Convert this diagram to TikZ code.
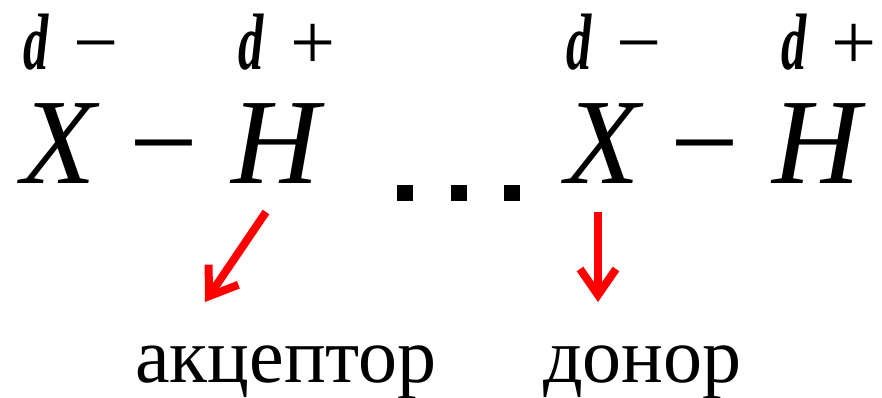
\documentclass[tikz,border=0pt]{standalone}
\usepackage{fontspec}
\setmainfont{Liberation Serif}
\usetikzlibrary{arrows.meta}

% text set at 40pt, then enlarged
\newcommand{\atomtxt}[1]{\scalebox{3.05}{\fontsize{40}{40}\selectfont\itshape #1}}
\newcommand{\bondtxt}[1]{\scalebox{3.05}{\fontsize{40}{40}\selectfont #1}}
\newcommand{\chargetxt}[1]{\scalebox{2}{\fontsize{40}{40}\selectfont #1}}
\newcommand{\roletxt}[1]{\scalebox{1.95}{\fontsize{40}{40}\selectfont #1}}
\newcommand{\delt}{\scalebox{1.26}[2]{\fontsize{40}{40}\selectfont\bfseries\itshape d}}

\tikzset{
  glyph/.style={inner sep=0pt, anchor=base west},
  hdot/.style={fill=black, inner sep=0pt, minimum size=16pt},
  polar/.style={draw=red, line width=8pt, -{Straight Barb[length=26pt,width=36pt]}}
}

\begin{document}
\begin{tikzpicture}[x=1pt,y=-1pt]
  \useasboundingbox (0,0) rectangle (882,398);
  % acceptor molecule
  \node[glyph] (dl1) at (23,70) {\delt};
  \node[glyph] (sg1) at (73,70) {\chargetxt{−}};
  \node[glyph] (dl2) at (238,70) {\delt};
  \node[glyph] (sg2) at (290,70) {\chargetxt{+}};
  \node[glyph] (x1) at (21,183) {\atomtxt{X}};
  \node[glyph] (b1) at (129,183) {\bondtxt{−}};
  \node[glyph] (h1) at (231,183) {\atomtxt{H}};

  % hydrogen bond
  \foreach \i/\x in {1/405,2/458.5,3/512}
    \node[hdot] (dot\i) at (\x,192.5) {};

  % donor molecule
  \node[glyph] (dl3) at (566,70) {\delt};
  \node[glyph] (sg3) at (616,70) {\chargetxt{−}};
  \node[glyph] (dl4) at (781,70) {\delt};
  \node[glyph] (sg4) at (831,70) {\chargetxt{+}};
  \node[glyph] (x2) at (565,183) {\atomtxt{X}};
  \node[glyph] (b2) at (670,183) {\bondtxt{−}};
  \node[glyph] (h2) at (772,183) {\atomtxt{H}};

  % roles
  \node[glyph] (acc) at (135,382) {\roletxt{акцептор}};
  \node[glyph] (don) at (543,382) {\roletxt{донор}};
  \coordinate (accfrom) at (266,212);
  \coordinate (accto) at (205,302);
  \coordinate (donfrom) at (598,212);
  \coordinate (donto) at (598,302);
  \draw[polar] (accfrom) -- (accto);
  \draw[polar] (donfrom) -- (donto);
\end{tikzpicture}
\end{document}
